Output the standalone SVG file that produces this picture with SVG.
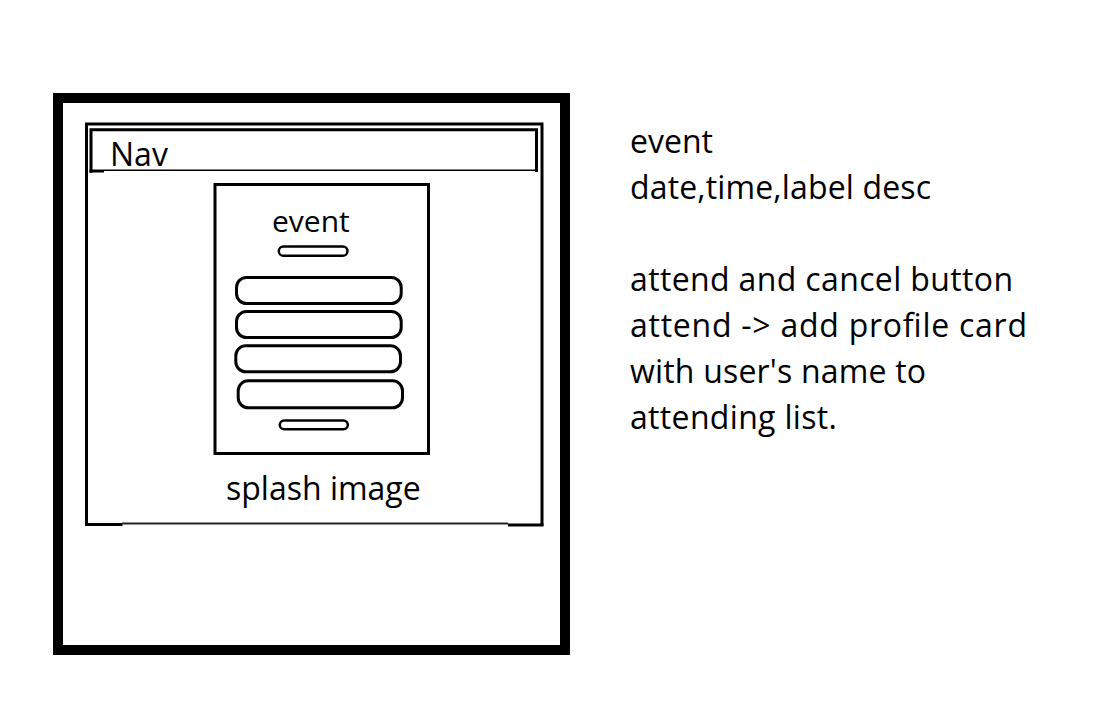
<svg xmlns="http://www.w3.org/2000/svg" width="1116" height="712" viewBox="0 0 1116 712">
<style>
text{font-family:"Open Sans","Noto Sans","Liberation Sans",sans-serif;fill:#000}
.ln{fill:none;stroke:#000;stroke-width:3}
.pill{fill:#fff;stroke:#000;stroke-width:3}
.sm{fill:#fff;stroke:#000;stroke-width:2.5}
</style>
<rect width="1116" height="712" fill="#fff"/>
<g id="phone-frame">
<rect x="58" y="98" width="507" height="552" fill="#fff" stroke="#000" stroke-width="10"/>
</g>
<g id="splash-container">
<path class="ln" d="M86.5,525.7 V124 H542 V525.7"/>
<path class="ln" d="M85,524.5 H122.5 M508,525 H543.5"/>
<path d="M122,523.4 H508" stroke="#222" stroke-width="2" fill="none"/>
<text x="226" y="500" font-size="32">splash image</text>
</g>
<g id="nav">
<path class="ln" d="M91,172.7 V129.7 H536.5 V172"/>
<path class="ln" d="M89.5,171 H104"/>
<path d="M104,170.3 H536" stroke="#000" stroke-width="1.5" fill="none"/>
<text x="110" y="166" font-size="32">Nav</text>
</g>
<g id="event-card">
<rect x="215" y="184.5" width="213.5" height="269" fill="#fff" stroke="#000" stroke-width="3"/>
<text x="272" y="232" font-size="30">event</text>
<rect class="sm" x="278.8" y="246.5" width="68.7" height="9.3" rx="4.6"/>
<rect class="pill" x="236.5" y="277.5" width="164.7" height="26" rx="10"/>
<rect class="pill" x="236.5" y="311.5" width="164.7" height="26" rx="10"/>
<rect class="pill" x="235.8" y="345.8" width="164.7" height="26" rx="10"/>
<rect class="pill" x="238.2" y="380.8" width="164.3" height="27" rx="10"/>
<rect class="sm" x="279.8" y="420.5" width="68" height="8.7" rx="4.3"/>
</g>
<g id="notes">
<text x="630" y="153" font-size="32">event</text>
<text x="630" y="198.5" font-size="32" textLength="301" lengthAdjust="spacing">date,time,label desc</text>
<text x="630" y="290.5" font-size="32" textLength="383" lengthAdjust="spacing">attend and cancel button</text>
<text x="630" y="336.5" font-size="32" textLength="397" lengthAdjust="spacing">attend -&gt; add profile card</text>
<text x="630" y="382.5" font-size="32" textLength="296" lengthAdjust="spacing">with user's name to</text>
<text x="630" y="428.5" font-size="32" textLength="207" lengthAdjust="spacing">attending list.</text>
</g>
<g id="connectors"/>
</svg>
